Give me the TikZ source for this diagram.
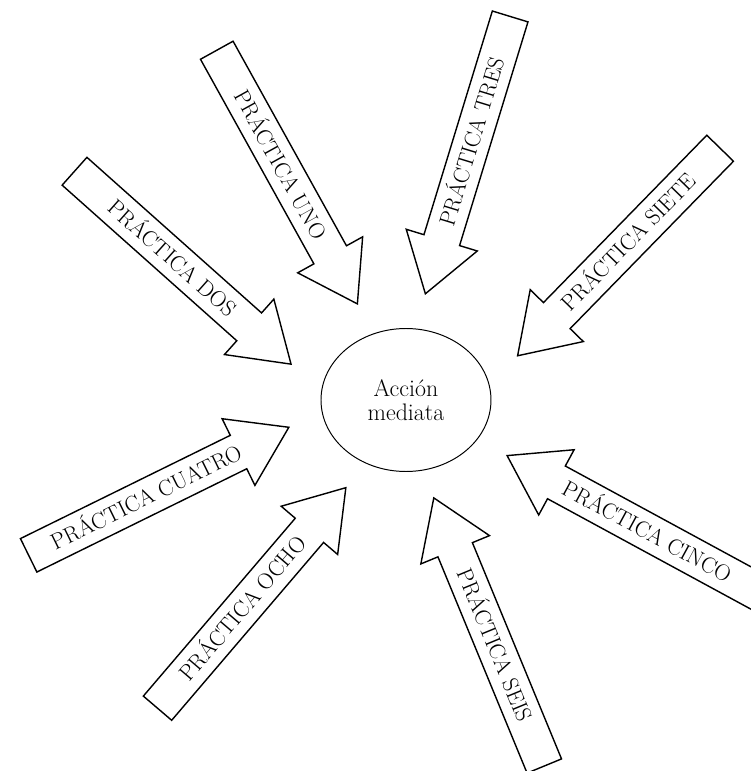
\documentclass[tikz,border=0pt]{standalone}
\usepackage{fontspec}
\usetikzlibrary{shapes.arrows, shapes.geometric}

\begin{document}
\begin{tikzpicture}[
        practica/.style={single arrow, draw, line width=1pt,
            font=\fontsize{16}{16}\selectfont,
            minimum height=7.25cm, single arrow head extend=0.4625cm,
            single arrow tip angle=67, text height=10.9pt, text depth=0pt,
            inner ysep=7.3pt, inner xsep=2pt, anchor=tip},
        nguoc/.style={shape border rotate=180}]

            % Khung hình
            \useasboundingbox (-10.15,-9.275) rectangle (8.625,10);
            \clip (-10.15,-9.275) rectangle (8.625,10);

            % Vẽ hình elip ở giữa
            \node[ellipse, draw, line width=0.7pt, minimum width=4.25cm, minimum height=3.575cm,
                align=center, font=\fontsize{17}{17.5}\selectfont] (accion) at (0,0) {Acción\\mediata};

            % Vẽ các mũi tên hướng vào elip
            \node[practica, rotate=-61] (uno) at (-1.2,2.375) {PRÁCTICA UNO}; % Mũi tên 1
            \node[practica, rotate=-41.7] (dos) at (-2.85,0.875) {PRÁCTICA DOS}; % Mũi tên 2
            \node[practica, nguoc, rotate=73] (tres) at (0.475,2.625) {PRÁCTICA TRES}; % Mũi tên 3
            \node[practica, rotate=26.2] (cuatro) at (-2.9,-0.668) {PRÁCTICA CUATRO}; % Mũi tên 4
            \node[practica, nguoc, rotate=-28.5] (cinco) at (2.5,-1.375) {PRÁCTICA CINCO}; % Mũi tên 5
            \node[practica, nguoc, rotate=-67.6] (seis) at (0.683,-2.418) {PRÁCTICA SEIS}; % Mũi tên 6
            \node[practica, nguoc, rotate=45.7] (siete) at (2.768,1.083) {PRÁCTICA SIETE}; % Mũi tên 7
            \node[practica, rotate=49.5] (ocho) at (-1.483,-2.168) {PRÁCTICA OCHO}; % Mũi tên 8

\end{tikzpicture}
\end{document}
